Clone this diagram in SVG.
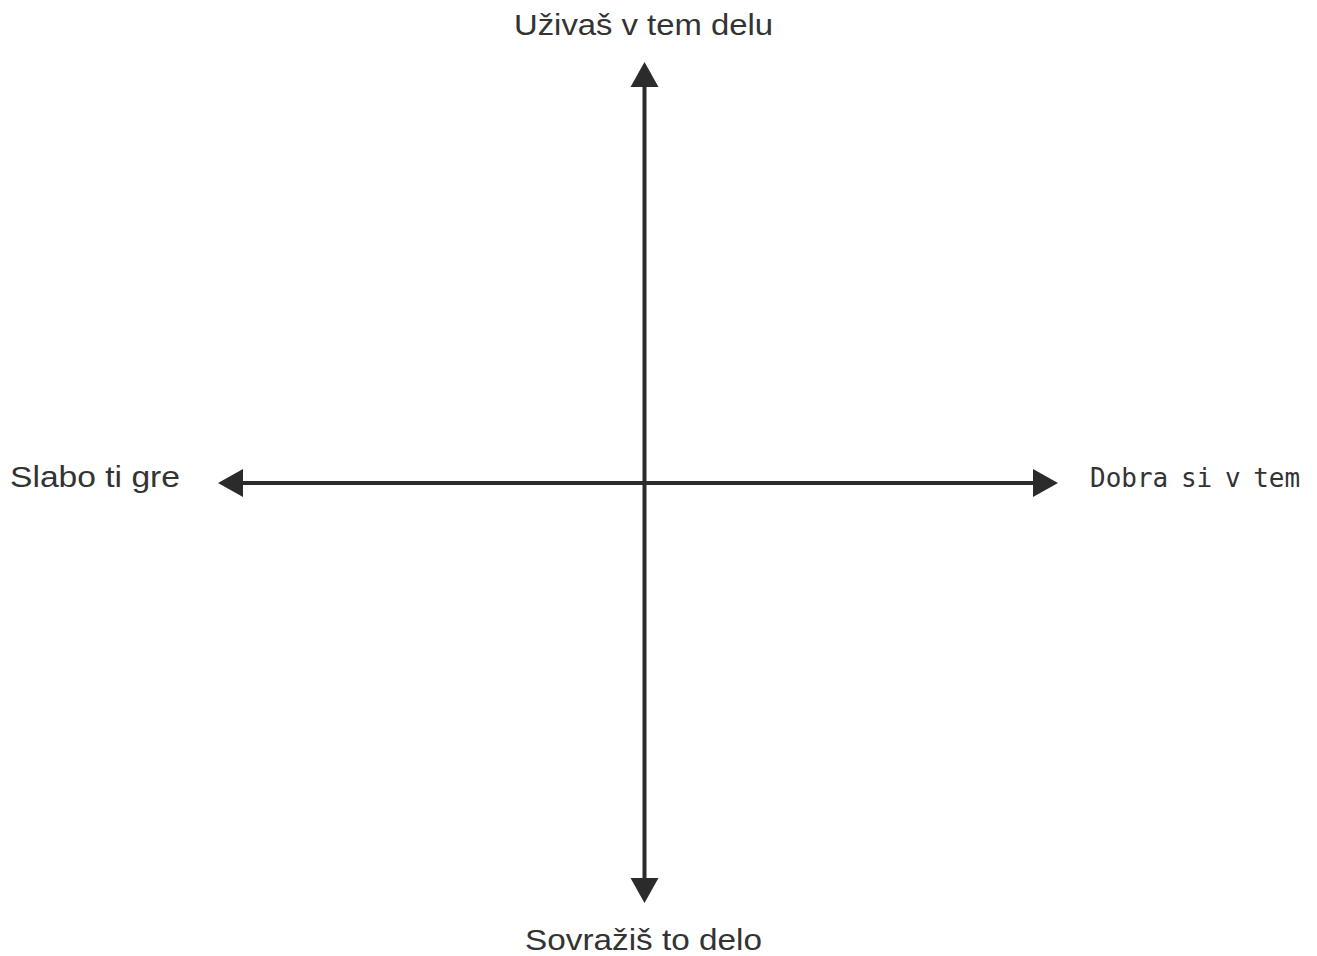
<svg xmlns="http://www.w3.org/2000/svg" width="1317" height="956" viewBox="0 0 1317 956">
<style>
.lbl{font-family:"Liberation Sans",Arial,sans-serif;font-size:29px;fill:#333333}
.mono{font-family:"DejaVu Sans Mono","Liberation Mono",monospace;font-size:26px;fill:#333333;word-spacing:-3px}
.ax{stroke:#2b2b2b;stroke-width:4;fill:none}
.head{fill:#2b2b2b}
</style>
<rect width="1317" height="956" fill="#ffffff"/>
<g id="connectors">
<line class="ax" x1="644.5" y1="84" x2="644.5" y2="880"/>
<line class="ax" x1="240" y1="483" x2="1036" y2="483"/>
<polygon class="head" points="644.5,62 630.5,87 658.5,87"/>
<polygon class="head" points="644.5,903 630.5,878 658.5,878"/>
<polygon class="head" points="218,483 243,469 243,497"/>
<polygon class="head" points="1058,483 1033,469 1033,497"/>
</g>
<g id="label-top"><text class="lbl" x="514" y="35" textLength="259" lengthAdjust="spacingAndGlyphs">Uživaš v tem delu</text></g>
<g id="label-bottom"><text class="lbl" x="525" y="950" textLength="237" lengthAdjust="spacingAndGlyphs">Sovražiš to delo</text></g>
<g id="label-left"><text class="lbl" x="10" y="487" textLength="170" lengthAdjust="spacingAndGlyphs">Slabo ti gre</text></g>
<g id="label-right"><text class="mono" x="1090" y="487">Dobra si v tem</text></g>
</svg>
